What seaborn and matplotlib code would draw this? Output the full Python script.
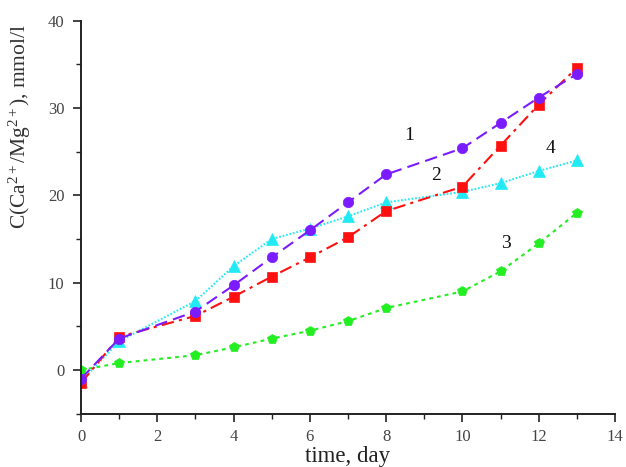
import numpy as np
import pandas as pd
import matplotlib
matplotlib.use("Agg")
import matplotlib.pyplot as plt
from matplotlib.ticker import MultipleLocator
import seaborn as sns

# Sampling days
days = [0, 1, 3, 4, 5, 6, 7, 8, 10, 11, 12, 13]

# Ca2+/Mg2+ concentration, mmol/l, for each sample
conc_1 = [-1.0, 3.6, 6.7, 9.7, 12.9, 16.0, 19.2, 22.4, 25.4, 28.3, 31.2, 33.9]
conc_2 = [-1.5, 3.8, 6.2, 8.4, 10.7, 12.9, 15.2, 18.2, 21.0, 25.7, 30.4, 34.6]
conc_3 = [0.0, 0.8, 1.7, 2.6, 3.6, 4.5, 5.6, 7.1, 9.0, 11.3, 14.5, 18.0]
conc_4 = [-1.3, 3.3, 7.9, 11.9, 15.0, 16.2, 17.6, 19.2, 20.4, 21.4, 22.8, 24.0]

curve_names = ["1", "2", "3", "4"]
x_ticks = [0, 2, 4, 6, 8, 10, 12, 14]
y_ticks = [0, 10, 20, 30, 40]

sns.set_style("ticks")
plt.rcParams["font.family"] = ["Liberation Serif", "DejaVu Serif"]
plt.rcParams["mathtext.fontset"] = "custom"
plt.rcParams["mathtext.rm"] = "Liberation Serif"
plt.rcParams["mathtext.it"] = "Liberation Serif:italic"

fig = plt.figure(figsize=(6.26, 4.67), dpi=100)
ax = fig.add_axes([0.1294, 0.1141, 0.853, 0.8415])

series = [
    (conc_1, "#7a1cff", "o", (0, (6, 3))),
    (conc_2, "#ff1010", "s", (0, (6, 2.5, 1.5, 2.5))),
    (conc_3, "#22ee22", "p", (0, (1.8, 2))),
    (conc_4, "#22eaf5", "^", (0, (0.8, 0.9))),
]

frames = []
for name, (vals, *_rest) in zip(curve_names, series):
    frames.append(pd.DataFrame({"day": days, "conc": vals, "curve": name}))
df = pd.concat(frames, ignore_index=True)

# Draw curves 3, 4, 2, 1 so the upper curves sit on top
for idx in [2, 3, 1, 0]:
    vals, color, mk, ls = series[idx]
    sub = df[df["curve"] == curve_names[idx]]
    sns.lineplot(data=sub, x="day", y="conc", ax=ax, color=color,
                 marker=mk, markersize=7.5 if mk != "^" else 8,
                 markeredgecolor=color, markerfacecolor=color,
                 markeredgewidth=0.5, linewidth=1.5, linestyle=ls,
                 legend=False, errorbar=None)

# Curve numbers
label_pos = {"1": (8.6, 26.9), "2": (9.3, 22.3), "3": (11.15, 14.5), "4": (12.3, 25.4)}
for name in curve_names:
    x, y = label_pos[name]
    ax.text(x, y, name, fontsize=14, ha="center", va="center", color="#111111")

ax.set_xlim(0, 14)
ax.set_ylim(-5, 40)
ax.set_xticks(x_ticks)
ax.set_yticks(y_ticks)
ax.xaxis.set_minor_locator(MultipleLocator(1))
ax.yaxis.set_minor_locator(MultipleLocator(5))
ax.tick_params(axis="both", which="major", direction="out", length=6, width=1.2,
               labelsize=12, labelcolor="#444444", color="#222222")
ax.tick_params(axis="y", which="major", pad=6)
ax.tick_params(axis="x", which="major", pad=5)
ax.tick_params(axis="both", which="minor", direction="out", length=3.5, width=1.0,
               color="#222222")
for side in ["top", "right"]:
    ax.spines[side].set_visible(False)
for side in ["left", "bottom"]:
    ax.spines[side].set_linewidth(1.4)
    ax.spines[side].set_color("#222222")

ax.set_xlabel("time, day", fontsize=16.5, color="#222222", labelpad=1)
ax.set_ylabel(r"C(Ca$^{2+}$/Mg$^{2+}$), mmol/l", fontsize=15.5, color="#333333")
ax.yaxis.set_label_coords(-0.09, 0.73)
ax.grid(False)

fig.savefig("out.png", dpi=100)
